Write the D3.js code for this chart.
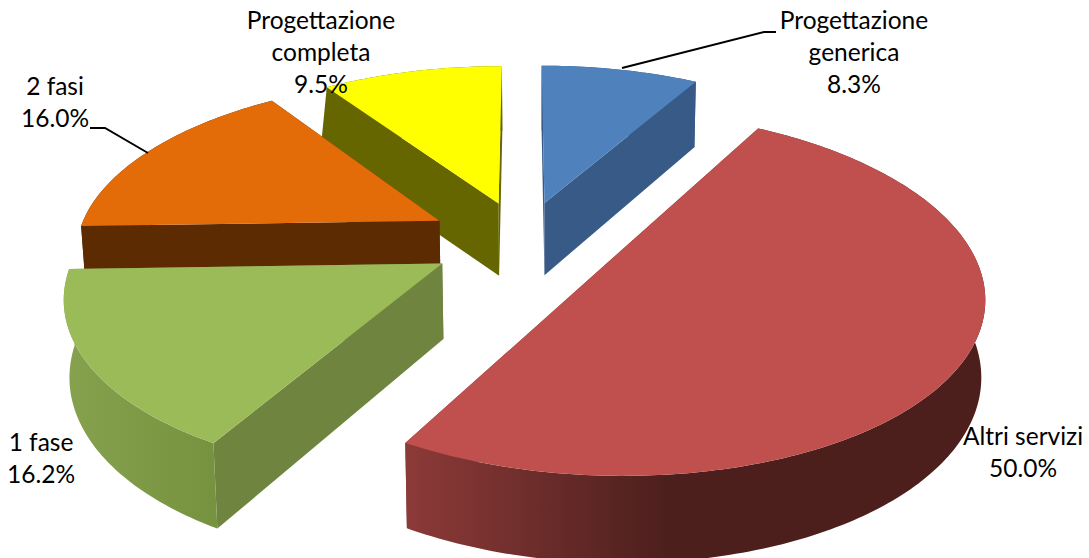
<!DOCTYPE html>
<html><head><meta charset="utf-8">
<script src="https://cdn.jsdelivr.net/npm/d3@7"></script>
<style>html,body{margin:0;padding:0;background:#fff}svg{display:block}</style>
</head><body><div id="c"></div>
<script>
const categories = ["Progettazione generica","Altri servizi","1 fase","2 fasi","Progettazione completa"];
const shares = [8.3,50.0,16.2,16.0,9.5];
const labelLines = [["Progettazione","generica"],["Altri servizi"],["1 fase"],["2 fasi"],["Progettazione","completa"]];
const topColors = ["#4f81bd","#c0504d","#9bbb59","#e36c09","#ffff00"];
const cutColors = ["#375a86","#7a3331","#6f843f","#5c2b02","#666600"];
const wallStart = ["#375a86","#8c3a38","#86a24e","#5c2b02","#666600"];
const wallEnd   = ["#375a86","#4c1f1d","#76923f","#5c2b02","#666600"];
const explode = [90.5,99,96.5,100,90];
const cutLean = [0,0,0,0,-9];

const W=1089,H=558;
const view={cx:523,cy:290,q:0.0009,b:0.491,depth:77,depthSlope:0.000713,vx:540,convLeft:0.012,convRight:0.009,R:380,ox:0,oy:105};
const svg=d3.select("#c").append("svg").attr("width",W).attr("height",H);
const defs=svg.append("defs");
const arcs=d3.pie().sort(null).startAngle(0).endAngle(2*Math.PI)(shares);
const line=d3.line().curve(d3.curveLinear);

function project(X,Y){const s=1/(1+view.q*view.b*Y);return [view.cx+X*s,view.cy-Y*view.b*s];}
function drop(p){
  const s=1+view.depthSlope*(p[1]-view.cy);
  const conv=p[0]<view.vx?view.convLeft:view.convRight;
  return [p[0]+(view.vx-p[0])*conv,p[1]+view.depth*s];
}

// painter's order, far to near
const order=[4,0,3,2,1];
const g=svg.append("g");
order.forEach(i=>{
  const a=arcs[i],mid=(a.startAngle+a.endAngle)/2;
  const ax=view.ox+explode[i]*Math.sin(mid),ay=view.oy+explode[i]*Math.cos(mid);
  const n=Math.max(8,Math.round((a.endAngle-a.startAngle)*60));
  const rim=d3.range(n+1).map(j=>{
    const t=a.startAngle+(a.endAngle-a.startAngle)*j/n;
    return project(ax+view.R*Math.sin(t),ay+view.R*Math.cos(t));
  });
  const apex=project(ax,ay);
  const rimDown=rim.map(drop),apexDown=drop(apex);
  const xs=rim.concat(rimDown).map(p=>p[0]);
  const id="wall"+i;
  const gr=defs.append("linearGradient").attr("id",id).attr("gradientUnits","userSpaceOnUse")
    .attr("x1",d3.min(xs)).attr("x2",i===1?d3.min(xs)+(d3.max(xs)-d3.min(xs))*0.45:d3.max(xs)).attr("y1",0).attr("y2",0);
  gr.append("stop").attr("offset",0).attr("stop-color",wallStart[i]);
  gr.append("stop").attr("offset",1).attr("stop-color",wallEnd[i]);
  // cut faces first, then the outer wall over them, then the top
  const lean=[rimDown[0][0]+cutLean[i],rimDown[0][1]];
  [[rim[n],rimDown[n]],[rim[0],lean]].forEach(e=>{
    g.append("path").attr("d",line([apex,e[0],e[1],apexDown])+"Z").attr("fill",cutColors[i]);
  });
  g.append("path").attr("d",line(rim.concat(rimDown.slice().reverse()))+"Z").attr("fill",`url(#${id})`);
  g.append("path").attr("d",line([apex].concat(rim))+"Z").attr("fill",topColors[i]);
});

const leaders=[[[622,68],[764,32],[776,32]],[[148,153],[105,128],[90,128]]];
leaders.forEach(l=>svg.append("path").attr("d",line(l)).attr("fill","none").attr("stroke","#000").attr("stroke-width",2));

const labelPos=[[854,21],[1023,437],[41,443],[55,87],[321,21]];
const fmt=v=>d3.format(".1f")(v)+"%";
categories.forEach((c,i)=>{
  const t=svg.append("text").attr("text-anchor","middle").attr("font-family","Lato,'Open Sans',sans-serif").attr("font-size",24.5).attr("fill","#000")
    .attr("x",labelPos[i][0]).attr("y",labelPos[i][1]+8);
  labelLines[i].concat([fmt(shares[i])]).forEach((s,j)=>t.append("tspan").attr("x",labelPos[i][0]).attr("dy",j?32:0).text(s));
});
</script></body></html>
